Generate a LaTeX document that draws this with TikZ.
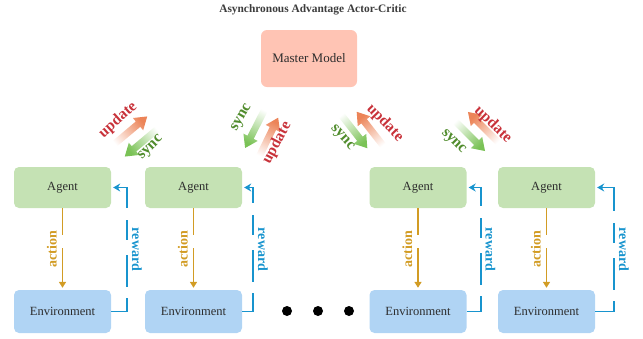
\documentclass[tikz,border=0pt]{standalone}
\usepackage{fontspec}
\setmainfont{Liberation Serif}
\usetikzlibrary{arrows.meta}

\definecolor{titlegray}{RGB}{60,60,60}
\definecolor{boxtext}{RGB}{45,45,45}
\definecolor{agentgreen}{RGB}{197,226,180}
\definecolor{envblue}{RGB}{176,212,244}
\definecolor{mastersalmon}{RGB}{255,196,180}
\definecolor{actgold}{RGB}{210,156,36}
\definecolor{rewblue}{RGB}{24,148,206}
\definecolor{updred}{RGB}{200,50,58}
\definecolor{updorange}{RGB}{236,132,88}
\definecolor{syncgreen}{RGB}{80,140,44}
\definecolor{synclight}{RGB}{122,194,86}

\tikzset{
    agentbox/.style={fill=agentgreen, rounded corners=5pt, minimum width=97pt, minimum height=41pt, text=boxtext, font=\fontsize{12.5}{14}\selectfont},
    envbox/.style={fill=envblue, rounded corners=5pt, minimum width=97pt, minimum height=43pt, text=boxtext, font=\fontsize{12.5}{14}\selectfont},
    masterbox/.style={fill=mastersalmon, rounded corners=6pt, minimum width=96pt, minimum height=57pt, text=boxtext, font=\fontsize{13}{15}\selectfont},
    actline/.style={actgold, line width=1.6pt, dash pattern=on 27pt off 13pt on 60pt off 1pt, -{Triangle[width=7pt,length=6pt]}, shorten >=2pt},
    rewline/.style={rewblue, line width=1.6pt, dash pattern=on 30pt off 11pt on 32pt off 15pt on 20pt off 12pt on 60pt off 1pt, -{Stealth[width=8pt,length=7pt]}, shorten >=2pt},
    actlabel/.style={text=actgold, font=\fontsize{14}{14}\selectfont\bfseries, rotate=90, anchor=south, inner sep=5pt},
    rewlabel/.style={text=rewblue, font=\fontsize{14}{14}\selectfont\bfseries, rotate=-90, anchor=south, inner sep=4pt},
    updlabel/.style={text=updred, font=\fontsize{15.5}{16}\selectfont\bfseries, inner sep=0pt},
    synclabel/.style={text=syncgreen, font=\fontsize{15.5}{16}\selectfont\bfseries, inner sep=0pt},
}

% flecha con degradado: cola, angulo, color
\newcommand{\fadearrow}[3]{%
    \pgfmathsetmacro{\fadeang}{#2-90}
    \begin{scope}[shift={#1}, rotate=#2]
        \shade[top color=#3, bottom color=white, shading angle=\fadeang]
            (0,-3.5) -- (34,-3.5) -- (34,-8) -- (46,0) -- (34,8) -- (34,3.5) -- (0,3.5) -- cycle;
    \end{scope}}

\begin{document}
\begin{tikzpicture}[x=1pt, y=-1pt]
    \useasboundingbox (0,0) rectangle (643,338);

    % Titulo
    \node[text=titlegray, font=\fontsize{11.4}{13}\selectfont\bfseries] (title) at (313,10) {Asynchronous Advantage Actor-Critic};

    % Modelo maestro
    \node[masterbox] (master) at (309,58.5) {Master Model};

    % Agentes
    \node[agentbox] (a1) at (62.5,187.5) {Agent};
    \node[agentbox] (a2) at (193.5,187.5) {Agent};
    \node[agentbox] (a3) at (418,187.5) {Agent};
    \node[agentbox] (a4) at (546.5,187.5) {Agent};

    % Entornos
    \node[envbox] (e1) at (62.5,311.5) {Environment};
    \node[envbox] (e2) at (193.5,311.5) {Environment};
    \node[envbox] (e3) at (418,311.5) {Environment};
    \node[envbox] (e4) at (546.5,311.5) {Environment};

    % Acciones
    \draw[actline] (a1) -- node[actlabel] {action} (e1);
    \draw[actline] (a2) -- node[actlabel] {action} (e2);
    \draw[actline] (a3) -- node[actlabel] {action} (e3);
    \draw[actline] (a4) -- node[actlabel] {action} (e4);

    % Recompensas
    \draw[rewline] (e1.east) -- ++(16,0) |- node[rewlabel, pos=0.25] {reward} (a1.east);
    \draw[rewline] (e2.east) -- ++(11,0) |- node[rewlabel, pos=0.25] {reward} (a2.east);
    \draw[rewline] (e3.east) -- ++(14,0) |- node[rewlabel, pos=0.25] {reward} (a3.east);
    \draw[rewline] (e4.east) -- ++(19,0) |- node[rewlabel, pos=0.25] {reward} (a4.east);

    % Colas de las flechas update / sync
    \coordinate (up1) at (112,146);
    \coordinate (sy1) at (160,127);
    \coordinate (sy2) at (266,107);
    \coordinate (up2) at (258,159);
    \coordinate (sy3) at (339,112);
    \coordinate (up3) at (385,148);
    \coordinate (sy4) at (452.5,118.5);
    \coordinate (up4) at (500.5,144.5);

    \fadearrow{(up1)}{40}{updorange}
    \fadearrow{(sy1)}{220}{synclight}
    \fadearrow{(sy2)}{243}{synclight}
    \fadearrow{(up2)}{64}{updorange}
    \fadearrow{(sy3)}{-52}{synclight}
    \fadearrow{(up3)}{128}{updorange}
    \fadearrow{(sy4)}{-45}{synclight}
    \fadearrow{(up4)}{135}{updorange}

    % Etiquetas update / sync
    \node[updlabel, rotate=42] (u1) at (118,120) {update};
    \node[synclabel, rotate=45] (s1) at (151,148) {sync};
    \node[synclabel, rotate=60] (s2) at (242,118) {sync};
    \node[updlabel, rotate=62] (u2) at (277,143) {update};
    \node[synclabel, rotate=-48] (s3) at (342,138) {sync};
    \node[updlabel, rotate=-46] (u3) at (385,123) {update};
    \node[synclabel, rotate=-45] (s4) at (453,142) {sync};
    \node[updlabel, rotate=-44] (u4) at (493,125) {update};

    % Puntos suspensivos
    \fill (287,311) circle (5pt);
    \fill (318,311) circle (5pt);
    \fill (349,311) circle (5pt);
\end{tikzpicture}
\end{document}
